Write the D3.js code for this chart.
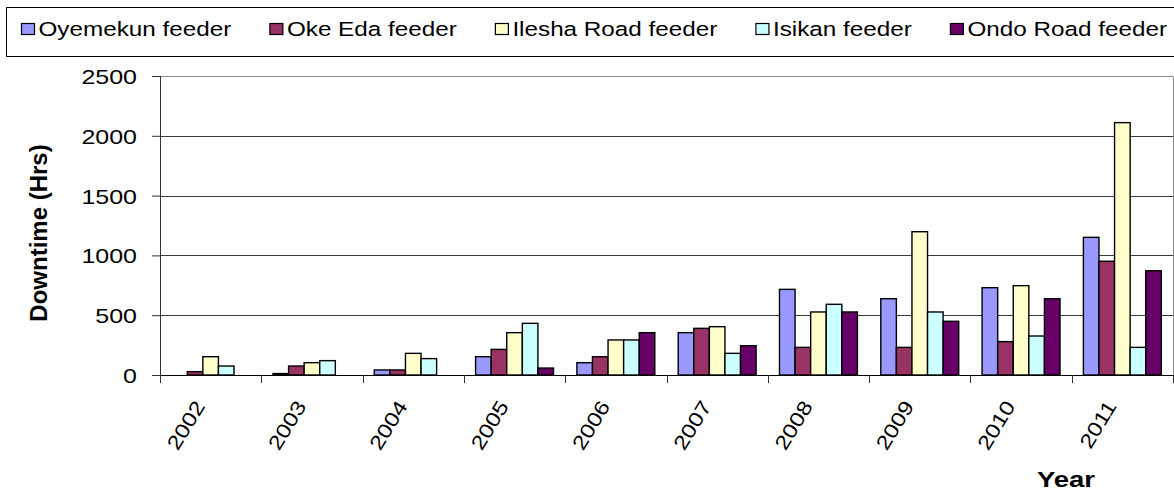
<!DOCTYPE html>
<html>
<head>
<meta charset="utf-8">
<script src="https://cdn.jsdelivr.net/npm/d3@7"></script>
<style>
  body { margin: 0; background: #fff; }
  svg { display: block; font-family: "Liberation Sans", Arial, sans-serif; }
</style>
</head>
<body>
<svg id="fig" width="1174" height="493"></svg>
<script>
// data
const years = ["2002", "2003", "2004", "2005", "2006", "2007", "2008", "2009", "2010", "2011"];
const seriesNames = ["Oyemekun feeder", "Oke Eda feeder", "Ilesha Road feeder", "Isikan feeder", "Ondo Road feeder"];
const seriesColors = ["#9999FF", "#993366", "#FFFFCC", "#CCFFFF", "#660066"];
const oyemekun = [0, 12, 42, 153, 103, 354, 716, 638, 730, 1151];
const okeEda = [28, 75, 42, 214, 153, 390, 231, 231, 279, 951];
const ileshaRoad = [153, 103, 181, 354, 293, 404, 527, 1198, 747, 2110];
const isikan = [75, 120, 137, 432, 293, 181, 591, 527, 326, 231];
const ondoRoad = [0, 0, 0, 58, 354, 245, 527, 449, 638, 872];
const yTicks = [0, 500, 1000, 1500, 2000, 2500];

const allSeries = [oyemekun, okeEda, ileshaRoad, isikan, ondoRoad];

// flat table for the bars
const rows = [];
years.forEach((yr, i) => {
    seriesNames.forEach((name, j) => {
        rows.push({year: yr, name, value: allSeries[j][i], color: seriesColors[j]});
    });
});

const svg = d3.select("#fig");

const plotLeft = 160, plotRight = 1173, plotTop = 76, plotBottom = 375;

const xScale = d3.scaleBand().domain(years).range([plotLeft, plotRight]);
const bw = xScale.bandwidth();
// excel style gap width 150%
const xSub = d3.scaleBand().domain(seriesNames).range([bw * 0.75 / 6.5, bw * 5.75 / 6.5]);
const yScale = d3.scaleLinear().domain([0, 2500]).range([plotBottom, plotTop]);

// gridlines
svg.append("g")
    .selectAll("line")
    .data(yTicks.filter(d => d > 0))
    .join("line")
    .attr("x1", plotLeft)
    .attr("x2", plotRight)
    .attr("y1", d => Math.round(yScale(d)) + 0.5)
    .attr("y2", d => Math.round(yScale(d)) + 0.5)
    .attr("stroke", d => d === 2500 ? "#8a8a8a" : "#3a3a3a")
    .attr("stroke-width", 1);

// right border of plot area
svg.append("line")
    .attr("x1", plotRight + 0.5).attr("x2", plotRight + 0.5)
    .attr("y1", Math.round(plotTop) + 0.5).attr("y2", plotBottom)
    .attr("stroke", "#8a8a8a");

// bars
svg.append("g")
    .selectAll("rect")
    .data(rows.filter(d => d.value > 0))
    .join("rect")
    .attr("x", d => xScale(d.year) + xSub(d.name))
    .attr("y", d => yScale(d.value))
    .attr("width", xSub.bandwidth())
    .attr("height", d => plotBottom - yScale(d.value))
    .attr("fill", d => d.color)
    .attr("stroke", "#000")
    .attr("stroke-width", 1.4);

// y axis
const yAxis = svg.append("g")
    .attr("transform", `translate(${plotLeft},0)`)
    .call(d3.axisLeft(yScale).tickValues(yTicks).tickFormat(d3.format("d")).tickSize(8).tickSizeOuter(0));
yAxis.select(".domain").attr("stroke", "#333").attr("d", `M0.5,${plotTop}V${plotBottom + 8}`);
yAxis.selectAll(".tick line").attr("stroke", "#333");
yAxis.selectAll(".tick text")
    .attr("font-size", 21)
    .attr("font-family", "Liberation Sans, Arial, sans-serif")
    .attr("fill", "#000")
    .attr("x", -23 / 1.19)
    .attr("dy", "0.36em")
    .attr("transform", "scale(1.19,1)");

// x axis: line and category boundary ticks
const xAxisG = svg.append("g");
xAxisG.append("line")
    .attr("x1", plotLeft).attr("x2", plotRight + 1)
    .attr("y1", plotBottom + 0.5).attr("y2", plotBottom + 0.5)
    .attr("stroke", "#000");
xAxisG.selectAll(".bt")
    .data(years.map(y => xScale(y)).concat([plotRight]))
    .join("line")
    .attr("class", "bt")
    .attr("x1", d => Math.round(d) + 0.5).attr("x2", d => Math.round(d) + 0.5)
    .attr("y1", plotBottom).attr("y2", plotBottom + 8)
    .attr("stroke", "#333");
xAxisG.selectAll("text")
    .data(years)
    .join("text")
    .attr("text-anchor", "end")
    .attr("font-size", 20)
    .attr("transform", d => `translate(${xScale(d) + bw / 2 - 5},406) rotate(-58.5) scale(1.2,1)`)
    .text(d => d);

// axis titles
svg.append("text")
    .attr("text-anchor", "middle")
    .attr("font-size", 24)
    .attr("font-weight", "bold")
    .attr("transform", "translate(47,233) rotate(-90)")
    .text("Downtime (Hrs)");

svg.append("text")
    .attr("text-anchor", "middle")
    .attr("font-size", 22)
    .attr("font-weight", "bold")
    .attr("transform", "translate(1066,487) scale(1.25,1)")
    .text("Year");

// legend
svg.append("rect")
    .attr("x", 6.5).attr("y", 7.5)
    .attr("width", 1180).attr("height", 49)
    .attr("fill", "#fff")
    .attr("stroke", "#000");

const legendStretch = 1.245;
const legendG = svg.append("g");
const items = legendG.selectAll("g")
    .data(seriesNames)
    .join("g");
items.append("rect")
    .attr("width", 13).attr("height", 11)
    .attr("y", 23.5)
    .attr("fill", (d, i) => seriesColors[i])
    .attr("stroke", "#000")
    .attr("stroke-width", 1.2);
items.append("text")
    .attr("font-size", 19.5)
    .attr("transform", `translate(17,36) scale(${legendStretch},1)`)
    .text(d => d);

// place legend items so that they span the measured width
const widths = [];
items.select("text").each(function(){ widths.push(this.getComputedTextLength() * legendStretch); });
const legStart = 21.5, legEnd = 1167;
const used = d3.sum(widths) + 17 * seriesNames.length;
const gap = (legEnd - legStart - used) / (seriesNames.length - 1);
let cursor = legStart;
items.each(function(d, i){
    d3.select(this).attr("transform", `translate(${cursor},0)`);
    cursor += 17 + widths[i] + gap;
});
</script>
</body>
</html>
